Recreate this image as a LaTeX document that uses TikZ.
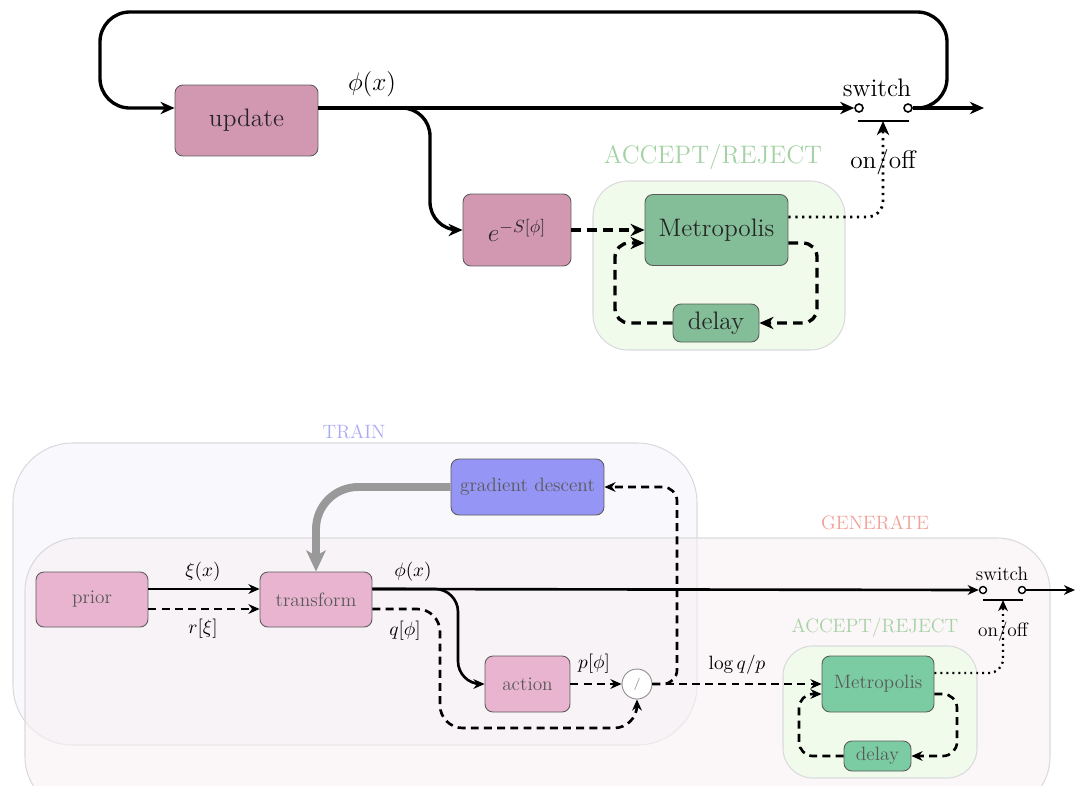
\documentclass[tikz,border=0pt]{standalone}
\usetikzlibrary{arrows.meta}
\definecolor{updc}{RGB}{211,152,177}
\definecolor{metc}{RGB}{131,190,152}
\definecolor{pinkc}{RGB}{233,180,208}
\definecolor{gdc}{RGB}{149,149,245}
\definecolor{bmetc}{RGB}{124,204,163}
\definecolor{accfill}{RGB}{240,251,235}
\definecolor{acclab}{RGB}{165,210,165}
\definecolor{trainfill}{RGB}{244,244,252}
\definecolor{trainlab}{RGB}{170,170,245}
\definecolor{genfill}{RGB}{248,240,242}
\definecolor{genlab}{RGB}{240,160,150}
\definecolor{regline}{RGB}{218,218,222}
\definecolor{boxline}{RGB}{90,90,90}
\begin{document}
\begin{tikzpicture}[x=0.02cm,y=-0.02cm,
  tfont/.style={font=\Large},
  bfont/.style={font=\fontsize{11}{13}\selectfont},
  block/.style={draw=boxline,line width=0.5pt,rounded corners=4.5pt,inner sep=0pt},
  topblock/.style={block,tfont,text=black!85},
  botblock/.style={block,bfont,text=black!65},
  tip/.style={-{Stealth[length=8pt,width=7pt,inset=2.5pt]}},
  btip/.style={-{Stealth[length=6.3pt,width=5.5pt,inset=2pt]}},
  solidT/.style={line width=1.9pt},
  dashT/.style={line width=1.9pt,dash pattern=on 5.5pt off 3.5pt},
  dotT/.style={line width=1.6pt,dash pattern=on 1.3pt off 2.6pt},
  solidB/.style={line width=1.5pt},
  dashB/.style={line width=1.5pt,dash pattern=on 4.5pt off 3pt},
  dotB/.style={line width=1.3pt,dash pattern=on 1.1pt off 2.3pt},
  term/.style={circle,draw,line width=0.9pt,fill=white,inner sep=0pt,minimum size=0.16cm},
  bterm/.style={circle,draw,line width=0.8pt,fill=white,inner sep=0pt,minimum size=0.14cm},
  region/.style={draw=regline,line width=0.6pt}
]
\useasboundingbox (0,0) rectangle (1075,785);

% ---------- background regions ----------
\path[region,fill=accfill,rounded corners=20pt] (593,181) rectangle (845,350);
\path[region,fill=trainfill,fill opacity=0.6,rounded corners=34pt] (13,443) rectangle (697,745);
\path[region,fill=genfill,fill opacity=0.6,rounded corners=30pt] (25,538) rectangle (1050,810);
\path[region,fill=accfill,rounded corners=17pt] (783,646) rectangle (977,778);

% ---------- upper chain ----------
\node[topblock,fill=updc,minimum width=2.86cm,minimum height=1.42cm] (update) at (246.5,120.5) {update};
\node[topblock,fill=updc,minimum width=2.16cm,minimum height=1.44cm] (expS) at (517,230) {$e^{-S[\phi]}$};
\node[topblock,fill=metc,minimum width=2.86cm,minimum height=1.42cm] (metro) at (716.5,230) {Metropolis};
\node[topblock,fill=metc,minimum width=1.72cm,minimum height=0.76cm] (delay) at (716,323) {delay};

\node[tfont,text=acclab] (accT) at (713,157) {ACCEPT/REJECT};
\node[tfont] (phiT) at (372,84) {$\phi(x)$};

% switch
\node[term] (swL) at (859,108) {};
\node[term] (swR) at (908,108) {};
\coordinate (barL) at (858,121);
\coordinate (barR) at (909,121);
\coordinate (barM) at (883,121);
\coordinate (tout) at (984,108);
\draw[line width=1.2pt] (barL) -- (barR);
\node[tfont] (swT) at (877,88) {switch};
\node[tfont] (onT) at (883,162) {on/off};

\draw[solidT,tip] (update.east |- swL) -- (swL.west);
\draw[solidT,tip] (swR.east) -- (tout);
\draw[solidT,tip,rounded corners=17pt] (swR.east) -- (947,108) -- (947,12) -- (100,12) -- (100,108) -- (update.west |- swL);
\draw[solidT,tip,rounded corners=16pt] (update.east |- swL) -- (430,108) -- (430,230) -- (expS.west);

\draw[dashT,tip] (expS.east) -- (metro.west);
\draw[dashT,tip,rounded corners=8pt] ([yshift=-0.26cm]metro.east) -- (817,243) -- (817,323) -- (delay.east);
\draw[dashT,tip,rounded corners=8pt] (delay.west) -- (615,323) -- (615,243) -- ([yshift=-0.26cm]metro.west);
\draw[dotT,tip,rounded corners=9pt] ([yshift=0.26cm]metro.east) -- (883,217) -- (barM);

% ---------- lower chain ----------
\node[bfont,text=trainlab] (trainT) at (354,432) {TRAIN};
\node[bfont,text=genlab] (genT) at (875,523) {GENERATE};
\node[bfont,text=acclab] (acc2T) at (875,628) {ACCEPT/REJECT};

\node[botblock,fill=pinkc,minimum width=2.24cm,minimum height=1.1cm] (prior) at (92,599.5) {prior};
\node[botblock,fill=pinkc,minimum width=2.24cm,minimum height=1.1cm] (transform) at (316,599.5) {transform};
\node[botblock,fill=pinkc,minimum width=1.7cm,minimum height=1.12cm] (action) at (527.5,684) {action};
\node[botblock,fill=gdc,minimum width=3.06cm,minimum height=1.12cm] (gd) at (527.5,487) {gradient descent};
\node[circle,draw=black!45,line width=0.5pt,fill=white,minimum size=0.6cm,inner sep=0pt,font=\scriptsize,text=black!50] (ratio) at (637,684) {/};
\node[botblock,fill=bmetc,minimum width=2.24cm,minimum height=1.12cm] (bmetro) at (878,684) {Metropolis};
\node[botblock,fill=bmetc,minimum width=1.34cm,minimum height=0.6cm] (bdelay) at (877.5,756) {delay};

\node[bfont] (xiT) at (203,572) {$\xi(x)$};
\node[bfont] (rT) at (203,629) {$r[\xi]$};
\node[bfont] (phi2T) at (413,572) {$\phi(x)$};
\node[bfont] (qT) at (405,631) {$q[\phi]$};
\node[bfont] (pT) at (594,664) {$p[\phi]$};
\node[bfont] (logT) at (737,665) {$\log q/p$};

% switch
\node[bterm] (bswL) at (983,590) {};
\node[bterm] (bswR) at (1022,590) {};
\coordinate (bbarL) at (983,600);
\coordinate (bbarR) at (1023,600);
\coordinate (bbarM) at (1003,600);
\coordinate (bout) at (1075,590);
\draw[line width=1pt] (bbarL) -- (bbarR);
\node[bfont] (bswT) at (1002,574) {switch};
\node[bfont] (bonT) at (1003,632) {on/off};

% gradient feedback
\draw[line width=4.5pt,black!40,-{Stealth[length=12pt,width=11pt,inset=3pt]},rounded corners=24pt] (gd.west) -- (316,487) -- (transform.north);

\draw[solidB,btip] ([yshift=0.21cm]prior.east) -- ([yshift=0.21cm]transform.west);
\draw[dashB,btip] ([yshift=-0.19cm]prior.east) -- ([yshift=-0.19cm]transform.west);
\draw[solidB,btip] ([yshift=0.21cm]transform.east) -- (bswL.west);
\draw[solidB,btip] (bswR.east) -- (bout);
\draw[solidB,btip,rounded corners=13pt] ([yshift=0.21cm]transform.east) -- (458,589) -- (458,684) -- (action.west);
\draw[dashB,btip,rounded corners=13pt] ([yshift=-0.19cm]transform.east) -- (440,609) -- (440,728) -- (637,728) -- (ratio.south);
\draw[dashB,btip] (action.east) -- (ratio.west);
\draw[dashB,btip] (ratio.east) -- (bmetro.west);
\draw[dashB,btip,rounded corners=8pt] (ratio.east) -- (677,684) -- (677,487) -- (gd.east);

\draw[dashB,btip,rounded corners=8pt] ([yshift=-0.2cm]bmetro.east) -- (957,694) -- (957,756) -- (bdelay.east);
\draw[dashB,btip,rounded corners=8pt] (bdelay.west) -- (799,756) -- (799,694) -- ([yshift=-0.2cm]bmetro.west);
\draw[dotB,btip,rounded corners=8pt] ([yshift=0.22cm]bmetro.east) -- (1003,673) -- (bbarM);
\end{tikzpicture}
\end{document}
